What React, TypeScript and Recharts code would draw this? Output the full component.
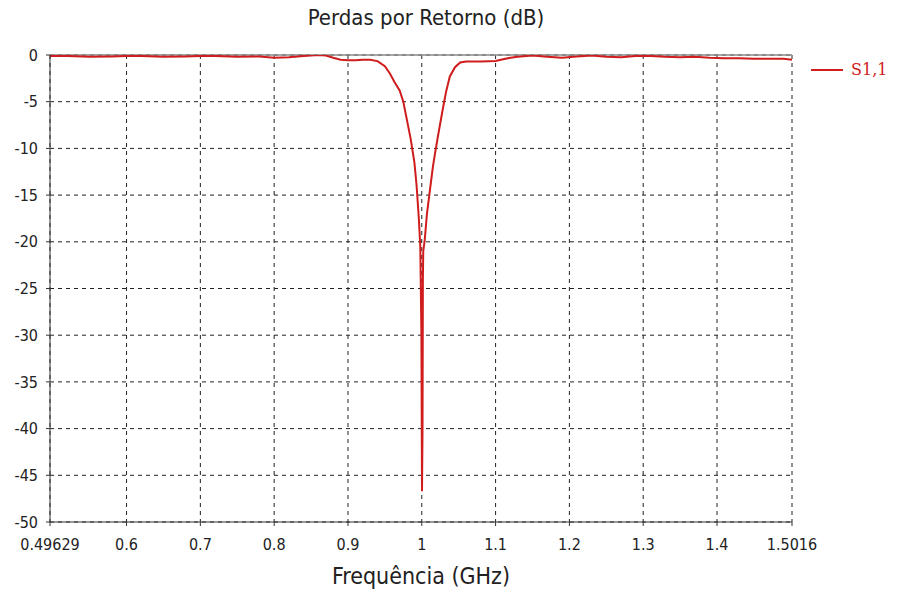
import { CartesianGrid, Line, LineChart, ReferenceLine, XAxis, YAxis } from "recharts";

// S1,1 sweep (frequency in GHz, return loss in dB)
const freqGHz = [
  0.49629, 0.52, 0.55, 0.58, 0.6, 0.62, 0.65, 0.68, 0.7, 0.72, 0.75, 0.78, 0.8, 0.82, 0.84, 0.86,
  0.87, 0.88, 0.89, 0.9, 0.91, 0.92, 0.93, 0.94, 0.95, 0.957, 0.963, 0.97, 0.975, 0.98, 0.985, 0.99,
  0.993, 0.996, 0.998, 0.9995, 1.0003, 1.001, 1.0015, 1.002, 1.004, 1.007, 1.011, 1.015, 1.018, 1.023,
  1.028, 1.033, 1.038, 1.045, 1.052, 1.06, 1.08, 1.1, 1.11, 1.12, 1.13, 1.15, 1.17, 1.19, 1.21, 1.23,
  1.25, 1.27, 1.29, 1.31, 1.33, 1.35, 1.37, 1.39, 1.41, 1.43, 1.45, 1.47, 1.49, 1.5016,
];
const s11dB = [
  -0.1, -0.1, -0.2, -0.15, -0.1, -0.1, -0.2, -0.15, -0.1, -0.1, -0.2, -0.15, -0.3, -0.25, -0.1, 0,
  -0.05, -0.3, -0.5, -0.55, -0.55, -0.5, -0.5, -0.65, -1.2, -2.0, -2.9, -3.8, -5.0, -7.0, -9.0, -11.5,
  -14, -17.5, -20.5, -30, -46.7, -40, -24, -21, -19.8, -17, -14.5, -12, -10.5, -8.2,
  -6, -3.9, -2.3, -1.3, -0.8, -0.7, -0.7, -0.65, -0.45, -0.3, -0.2, -0.05, -0.2, -0.3, -0.15, -0.05,
  -0.2, -0.25, -0.1, -0.1, -0.2, -0.25, -0.2, -0.3, -0.35, -0.35, -0.4, -0.4, -0.4, -0.5,
];

const xTicks = [0.49629, 0.6, 0.7, 0.8, 0.9, 1, 1.1, 1.2, 1.3, 1.4, 1.5016];
const xTickLabels = ["0.49629", "0.6", "0.7", "0.8", "0.9", "1", "1.1", "1.2", "1.3", "1.4", "1.5016"];
const yTicks = [-50, -45, -40, -35, -30, -25, -20, -15, -10, -5, 0];

const data = freqGHz.map((f, i) => ({ f, s11: s11dB[i] }));

const font = "'DejaVu Sans Condensed', 'DejaVu Sans', sans-serif";
const red = "#d01c1c";

export default function App() {
  return (
    <div style={{ position: "absolute", left: 0, top: 0, width: 898, height: 592, background: "#fff", fontFamily: font }}>
      <div style={{ position: "absolute", top: 5, left: 0, width: 852, textAlign: "center", fontSize: 22, color: "#222" }}>
        Perdas por Retorno (dB)
      </div>
      <LineChart width={898} height={592} data={data} margin={{ top: 55, right: 106, bottom: 0, left: 0 }}>
        <CartesianGrid stroke="#222" strokeDasharray="4 4" horizontalValues={yTicks} verticalValues={xTicks} />
        <XAxis
          dataKey="f"
          type="number"
          domain={[0.49629, 1.5016]}
          ticks={xTicks}
          tickFormatter={(v: number) => xTickLabels[xTicks.indexOf(v)] ?? String(v)}
          height={70}
          stroke="#333"
          tickSize={4}
          tickMargin={13}
          tick={{ fill: "#222", fontSize: 16, fontFamily: font }}
          allowDataOverflow
        />
        <YAxis
          type="number"
          domain={[-50, 0]}
          ticks={yTicks}
          width={50}
          stroke="#333"
          tickSize={4}
          tickMargin={8}
          tick={{ fill: "#222", fontSize: 16, fontFamily: font }}
          allowDataOverflow
        />
        <ReferenceLine y={0} stroke="#888" strokeWidth={1.5} />
        <Line
          type="linear"
          dataKey="s11"
          name="S1,1"
          stroke={red}
          strokeWidth={2}
          dot={false}
          isAnimationActive={false}
        />
      </LineChart>
      <div style={{ position: "absolute", left: 811, top: 60, display: "flex", alignItems: "center", gap: 8 }}>
        <svg width={32} height={4}>
          <line x1={0} y1={2} x2={32} y2={2} stroke={red} strokeWidth={2} />
        </svg>
        <span style={{ color: red, fontFamily: "'DejaVu Serif', serif", fontSize: 16 }}>S1,1</span>
      </div>
      <div style={{ position: "absolute", top: 563, left: 0, width: 842, textAlign: "center", fontSize: 23, color: "#222" }}>
        Frequência (GHz)
      </div>
    </div>
  );
}
